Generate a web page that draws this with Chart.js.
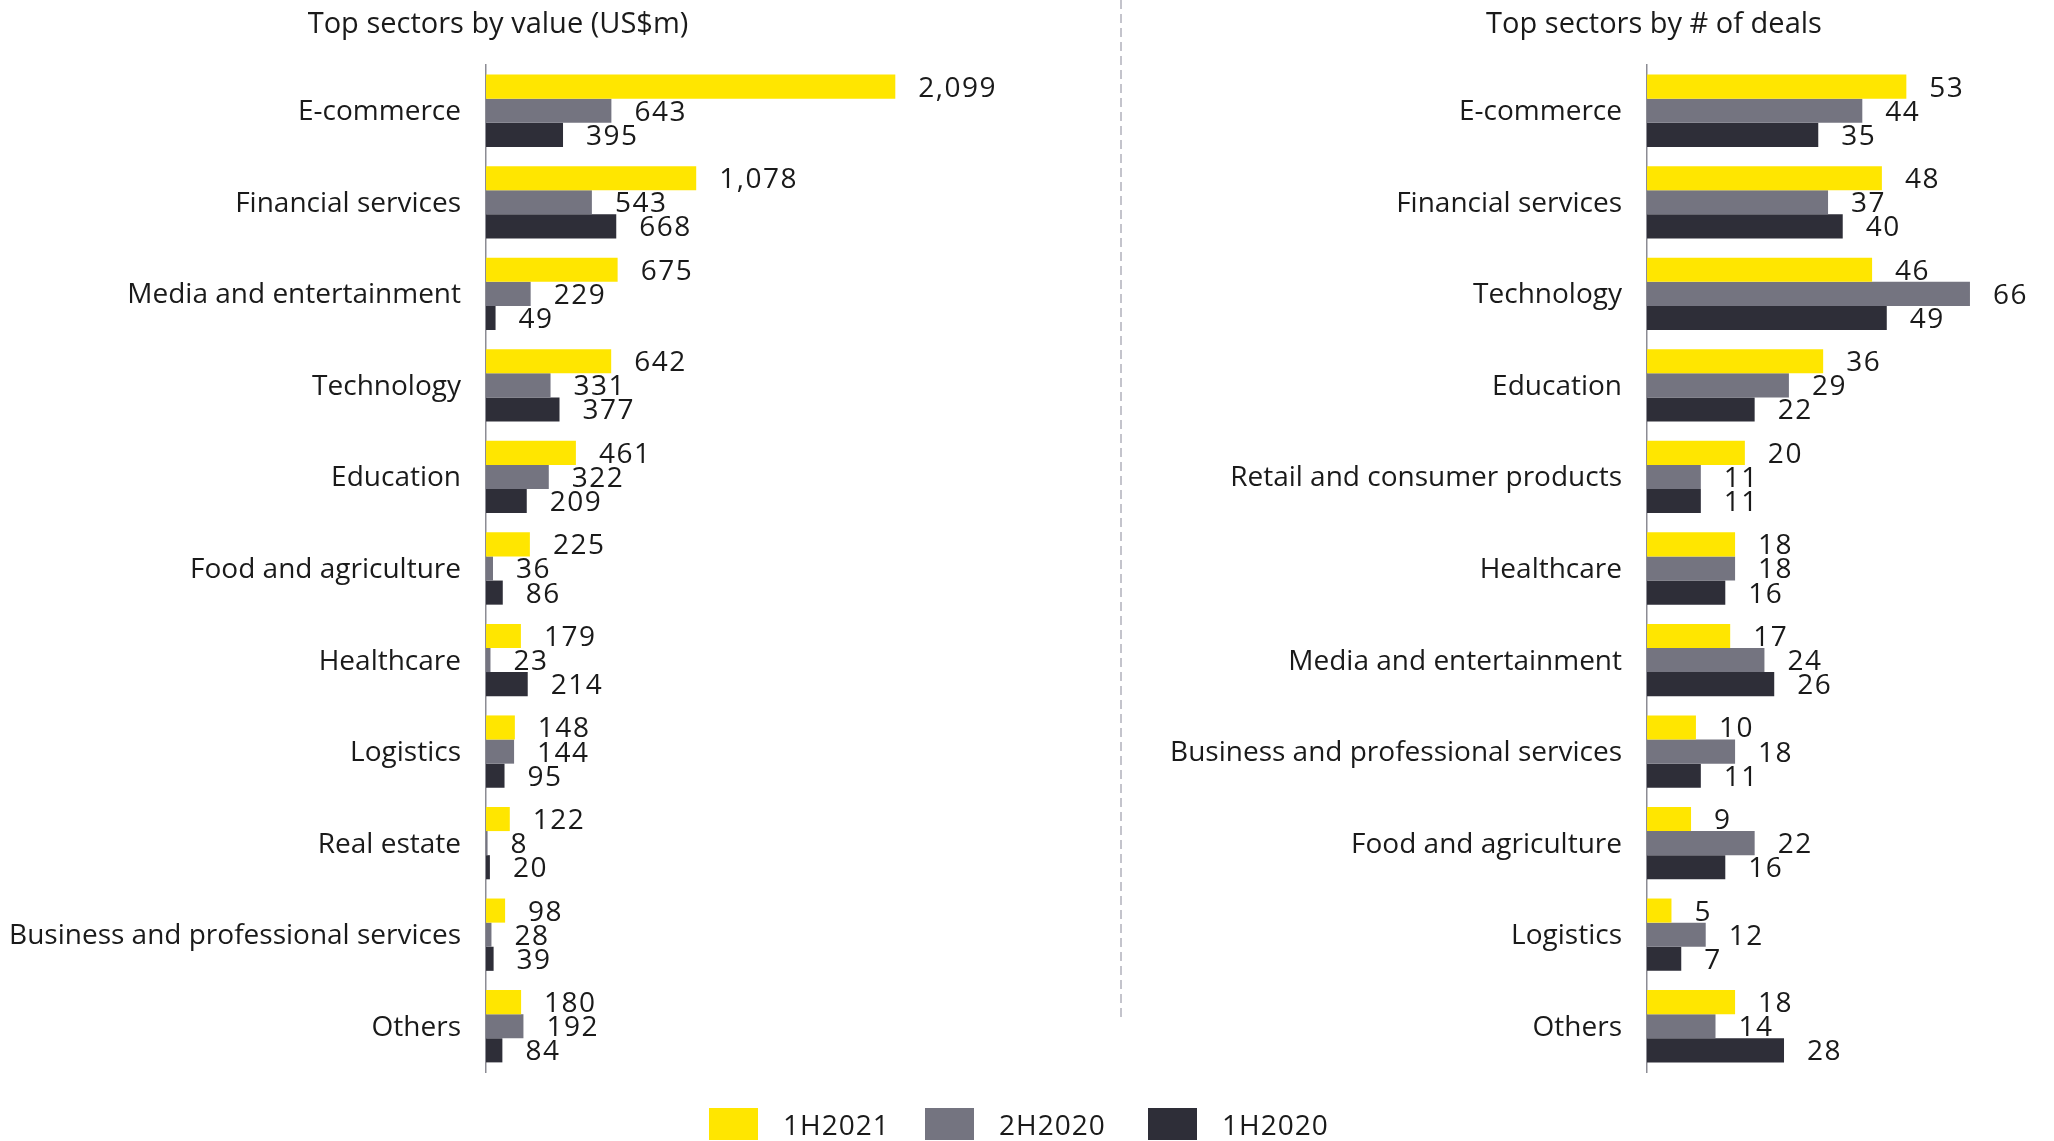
<!DOCTYPE html>
<html>
<head>
<meta charset="utf-8">
<script src="https://cdn.jsdelivr.net/npm/chart.js@4"></script>
<style>
  body { margin: 0; background: #fff; }
  #wrap { position: relative; width: 2054px; height: 1141px; overflow: hidden;
    font-family: "Open Sans", sans-serif; color: #1a1a1a; }
  canvas { position: absolute; top: 0; }
  #value-chart { left: 0; }
  #deals-chart { left: 1120px; }
  #divider { position: absolute; left: 1120px; top: 0; width: 2px; height: 1022px;
    background: repeating-linear-gradient(to bottom, #c4c4cc 0 9px, transparent 9px 14px); }
  .heading { position: absolute; top: 4px; font-size: 29px; line-height: 36px; white-space: nowrap; transform: translateX(-50%); }
  .key { position: absolute; top: 1108px; height: 32px; display: flex; align-items: center; font-size: 28px; letter-spacing: 1px; }
  .key span { display: inline-block; width: 49px; height: 32px; margin-right: 25px; }
</style>
</head>
<body>
<div id="wrap">
  <canvas id="value-chart" width="1120" height="1141"></canvas>
  <canvas id="deals-chart" width="934" height="1141"></canvas>
  <div id="divider"></div>
  <div class="heading" style="left:498px">Top sectors by value (US$m)</div>
  <div class="heading" style="left:1654px">Top sectors by # of deals</div>
  <div class="key" style="left:709px"><span style="background:#ffe600"></span>1H2021</div>
  <div class="key" style="left:925px"><span style="background:#747480"></span>2H2020</div>
  <div class="key" style="left:1148px"><span style="background:#2e2e38"></span>1H2020</div>
</div>
<script>
var periods = ['1H2021', '2H2020', '1H2020'];
var colors = ['#ffe600', '#747480', '#2e2e38'];

// deal value by sector, US$m
var valueSectors = ['E-commerce', 'Financial services', 'Media and entertainment', 'Technology', 'Education',
    'Food and agriculture', 'Healthcare', 'Logistics', 'Real estate', 'Business and professional services', 'Others'];
var value1H2021 = [2099, 1078, 675, 642, 461, 225, 179, 148, 122, 98, 180];
var value2H2020 = [643, 543, 229, 331, 322, 36, 23, 144, 8, 28, 192];
var value1H2020 = [395, 668, 49, 377, 209, 86, 214, 95, 20, 39, 84];

// number of deals by sector
var dealSectors = ['E-commerce', 'Financial services', 'Technology', 'Education', 'Retail and consumer products',
    'Healthcare', 'Media and entertainment', 'Business and professional services', 'Food and agriculture', 'Logistics', 'Others'];
var deals1H2021 = [53, 48, 46, 36, 20, 18, 17, 10, 9, 5, 18];
var deals2H2020 = [44, 37, 66, 29, 11, 18, 24, 18, 22, 12, 14];
var deals1H2020 = [35, 40, 49, 22, 11, 16, 26, 11, 16, 7, 28];

var textColor = '#1a1a1a';
var font = '"Open Sans", sans-serif';

// writes each bar's number just past its end
var valueLabels = {
    id: 'valueLabels',
    afterDatasetsDraw: function (chart) {
        var ctx = chart.ctx;
        ctx.save();
        ctx.font = '28px ' + font;
        ctx.letterSpacing = '1.5px';
        ctx.fillStyle = textColor;
        ctx.textAlign = 'left';
        ctx.textBaseline = 'middle';
        chart.data.datasets.forEach(function (ds, i) {
            chart.getDatasetMeta(i).data.forEach(function (bar, j) {
                ctx.fillText(ds.data[j].toLocaleString('en-US'), bar.x + 23, bar.y + 2);
            });
        });
        ctx.restore();
    }
};

function makeDatasets(series) {
    return series.map(function (values, i) {
        return {
            label: periods[i],
            data: values,
            backgroundColor: colors[i],
            borderWidth: 0
        };
    });
}

function makeOptions(axisWidth, max, padRight) {
    return {
        indexAxis: 'y',
        responsive: false,
        animation: false,
        devicePixelRatio: 1,
        layout: { padding: { left: 0, right: padRight, top: 65, bottom: 69 } },
        datasets: { bar: { categoryPercentage: 0.79, barPercentage: 1 } },
        plugins: {
            legend: { display: false },
            tooltip: { enabled: false }
        },
        scales: {
            x: { display: false, min: 0, max: max },
            y: {
                grid: { display: false, drawTicks: false },
                border: { display: true, color: '#8c8c94', width: 1.5 },
                ticks: {
                    autoSkip: false,
                    color: textColor,
                    padding: 25,
                    labelOffset: 1.5,
                    font: { family: font, size: 28 }
                },
                afterFit: function (scale) { scale.width = axisWidth; }
            }
        }
    };
}

var valueChart = new Chart(document.getElementById('value-chart'), {
    type: 'bar',
    data: {
        labels: valueSectors,
        datasets: makeDatasets([value1H2021, value2H2020, value1H2020])
    },
    options: makeOptions(486, 3000, 49),
    plugins: [valueLabels]
});

var dealsChart = new Chart(document.getElementById('deals-chart'), {
    type: 'bar',
    data: {
        labels: dealSectors,
        datasets: makeDatasets([deals1H2021, deals2H2020, deals1H2020])
    },
    options: makeOptions(527, 75, 40),
    plugins: [valueLabels]
});
</script>
</body>
</html>
